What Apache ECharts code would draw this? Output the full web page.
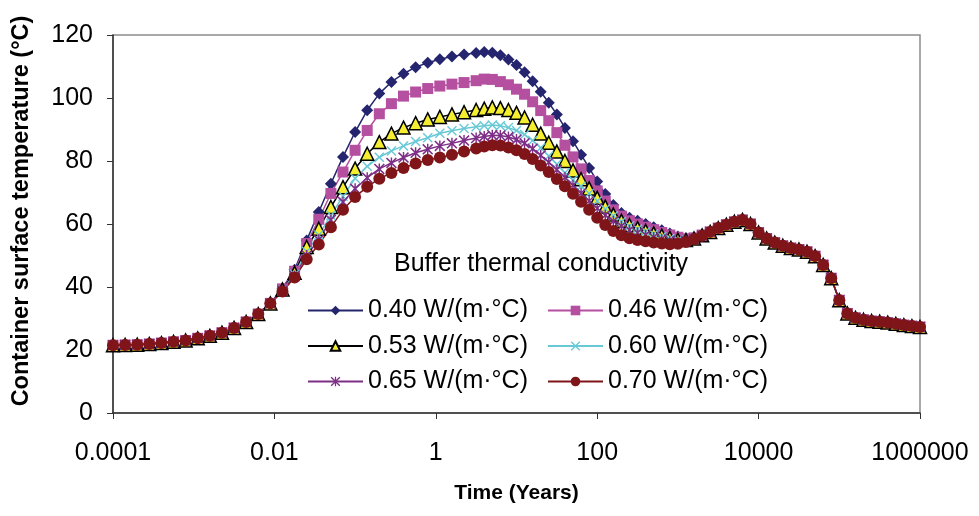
<!DOCTYPE html>
<html>
<head>
<meta charset="utf-8">
<script src="https://cdn.jsdelivr.net/npm/echarts@6/dist/echarts.min.js"></script>
<style>
  html, body { margin: 0; padding: 0; background: #fff; }
  #chart { width: 979px; height: 516px; }
</style>
</head>
<body>
<div id="chart"></div>
<script>
// log10 of time in years for every computed step
const logTime = [
  -4, -3.85, -3.7, -3.55, -3.4, -3.25, -3.1, -2.95, -2.8, -2.65, -2.5, -2.35, -2.2, -2.05,
  -1.9, -1.75, -1.6, -1.45, -1.3, -1.15, -1, -0.85, -0.7, -0.55, -0.4, -0.25, -0.1, 0.05, 0.2, 0.35, 0.5,
  0.6, 0.7, 0.8, 0.9, 1.0, 1.1, 1.2, 1.3, 1.4, 1.5, 1.6, 1.7, 1.8, 1.9, 2.0,
  2.1, 2.2, 2.3, 2.4, 2.5, 2.6, 2.7, 2.8, 2.9, 3.0, 3.1, 3.2, 3.3,
  3.4, 3.5, 3.6, 3.7, 3.8, 3.9, 4.0, 4.1, 4.2, 4.3, 4.4, 4.5, 4.6, 4.7, 4.8, 4.9,
  5.0, 5.1, 5.2, 5.3, 5.4, 5.5, 5.6, 5.7, 5.8, 5.9, 6.0
];

// all cases coincide before ~0.01 yr and after ~2000 yr
const sharedEarly = [21.5, 21.6, 21.7, 21.9, 22.2, 22.6, 23.0, 23.7, 24.5, 25.5, 27.0, 28.9, 31.4, 34.8];
const sharedLate = [57.5, 58.7, 59.8, 60.7, 61.3, 60.0, 57.3, 55.4, 54.1, 53.1, 52.4, 51.9, 51.2, 49.8, 47.0, 42.8,
  35.8, 31.6, 30.2, 29.6, 29.2, 29.0, 28.7, 28.3, 27.9, 27.6, 27.3];

const k040 = [39.6, 45.5, 54.8, 63.8, 72.8, 81.3, 89.2, 96.1, 101.4, 105.1, 107.7, 109.8, 111.2, 112.3, 113.2, 113.8, 114.3,
  114.6, 114.4, 113.6, 112.2, 110.5, 108.2, 105.3, 102.0, 98.5, 94.8, 90.5, 86.3, 82.0, 77.8, 73.5,
  69.5, 66.0, 63.5, 62.0, 61.0, 60.0, 59.0, 58.0, 57.0, 56.0, 55.5, 55.7, 56.6];
const k046 = [39.4, 45.0, 53.8, 61.5, 69.7, 76.5, 83.4, 89.7, 95.0, 98.2, 100.6, 101.9, 103.0, 103.8, 104.4, 104.9, 105.5,
  106.0, 105.9, 105.2, 104.2, 102.8, 101.2, 98.8, 96.0, 92.8, 89.0, 85.0, 81.3, 77.5, 73.8, 70.5,
  67.3, 64.5, 62.5, 61.0, 60.0, 59.0, 58.2, 57.3, 56.5, 55.8, 55.3, 55.6, 56.5];
const k053 = [39.2, 44.5, 52.7, 58.5, 65.4, 71.7, 77.6, 82.3, 86.0, 88.7, 90.6, 92.0, 93.2, 94.0, 94.8, 95.5, 96.2,
  96.6, 97.0, 96.8, 96.2, 95.3, 93.8, 91.5, 88.7, 85.8, 83.0, 80.0, 77.0, 74.2, 71.3, 68.3,
  65.5, 63.0, 61.0, 59.6, 58.7, 57.8, 57.0, 56.3, 55.6, 55.0, 54.9, 55.4, 56.4];
const k060 = [39.0, 44.0, 51.3, 56.5, 62.8, 68.8, 74.5, 78.3, 81.2, 83.2, 84.8, 86.2, 87.4, 88.8, 89.6, 90.3, 90.9,
  91.2, 91.4, 91.2, 90.6, 89.7, 88.4, 86.5, 84.2, 81.6, 79.0, 76.3, 74.0, 72.0, 69.7, 67.3,
  64.8, 62.6, 60.8, 59.4, 58.4, 57.6, 56.8, 56.0, 55.4, 54.9, 54.8, 55.3, 56.3];
const k065 = [38.8, 43.5, 50.0, 55.0, 61.3, 67.0, 71.2, 74.7, 77.5, 79.4, 81.1, 82.6, 83.7, 84.8, 85.6, 86.5, 87.3,
  87.8, 88.2, 88.1, 87.6, 86.8, 85.6, 83.9, 81.8, 79.6, 77.2, 74.8, 72.3, 69.8, 67.3, 65.0,
  62.8, 60.9, 59.3, 58.1, 57.2, 56.5, 55.8, 55.2, 54.7, 54.4, 54.6, 55.2, 56.3];
const k070 = [38.6, 43.0, 48.8, 53.5, 59.0, 64.5, 68.6, 71.8, 74.4, 76.2, 77.8, 79.2, 80.3, 81.1, 82.0, 83.0, 84.0,
  84.6, 85.0, 84.9, 84.3, 83.4, 82.2, 80.6, 78.6, 76.5, 74.3, 72.0, 69.6, 67.1, 64.5, 62.0,
  59.7, 57.8, 56.4, 55.5, 54.9, 54.5, 54.1, 53.8, 53.6, 53.7, 54.3, 55.2, 56.3];

const names = ['0.40 W/(m·°C)', '0.46 W/(m·°C)', '0.53 W/(m·°C)', '0.60 W/(m·°C)', '0.65 W/(m·°C)', '0.70 W/(m·°C)'];
const yTicks = [0, 20, 40, 60, 80, 100, 120];

const FONT = '"Liberation Sans", Arial, sans-serif';
const crossPath = 'path://M0,1L1,0L5,4L9,0L10,1L6,5L10,9L9,10L5,6L1,10L0,9L4,5Z';
const starPath = 'path://M0,1L1,0L5,4L9,0L10,1L6,5L10,9L9,10L5,6L1,10L0,9L4,5Z M4.35,0L5.65,0L5.65,10L4.35,10Z';

function toPoints(mid) {
  const temps = [...sharedEarly, ...mid, ...sharedLate];
  return logTime.map((lt, i) => [Math.pow(10, lt), temps[i]]);
}

function makeSeries(name, mid, symbol, size, color, lineColor, border) {
  return {
    name,
    type: 'line',
    data: toPoints(mid),
    symbol,
    symbolSize: size,
    showSymbol: true,
    lineStyle: { color: lineColor || color, width: 1.5 },
    itemStyle: border
      ? { color, borderColor: border, borderWidth: 1.5 }
      : { color, borderWidth: 0 },
    emphasis: { disabled: true },
  };
}

const chart = echarts.init(document.getElementById('chart'));

const legendBase = {
  orient: 'vertical',
  top: 298,
  itemWidth: 55,
  itemHeight: 12,
  itemGap: 10.5,
  padding: 0,
  textStyle: { fontSize: 25, color: '#000', fontFamily: FONT },
};

chart.setOption({
  animation: false,
  backgroundColor: '#fff',
  title: {
    text: 'Buffer thermal conductivity',
    left: 394,
    top: 252,
    padding: 0,
    textStyle: { fontSize: 25, fontWeight: 'normal', color: '#000', fontFamily: FONT },
  },
  legend: [
    { ...legendBase, left: 307, data: [names[0], names[2], names[4]] },
    { ...legendBase, left: 547, data: [names[1], names[3], names[5]] },
  ],
  grid: {
    left: 113,
    right: 59,
    top: 35,
    bottom: 103,
    show: true,
    borderColor: '#8c8c8c',
    borderWidth: 1.5,
  },
  xAxis: {
    type: 'log',
    logBase: 100,
    min: 0.0001,
    max: 1000000,
    name: 'Time (Years)',
    nameLocation: 'middle',
    nameGap: 70,
    nameTextStyle: { fontSize: 21, fontWeight: 'bold', color: '#000', fontFamily: FONT },
    axisLine: { lineStyle: { color: '#333', width: 1.5 } },
    axisTick: { inside: false, length: 6, lineStyle: { color: '#333' } },
    minorTick: { show: false },
    splitLine: { show: false },
    axisLabel: {
      fontSize: 25,
      color: '#000',
      fontFamily: FONT,
      margin: 28,
      formatter: (v) => {
        if (v >= 1) return String(Math.round(v));
        return v.toFixed(Math.round(-Math.log10(v)));
      },
    },
  },
  yAxis: {
    type: 'value',
    min: yTicks[0],
    max: yTicks[yTicks.length - 1],
    interval: 20,
    name: 'Container surface temperature (°C)',
    nameLocation: 'middle',
    nameGap: 79,
    nameTruncate: { maxWidth: 800 },
    nameTextStyle: {
      fontSize: 23.5, fontWeight: 'bold', color: '#000', fontFamily: FONT,
      padding: [0, 0, 0, 26],
    },
    axisLine: { show: true, lineStyle: { color: '#333', width: 1.5 } },
    axisTick: { show: true, inside: false, length: 6, lineStyle: { color: '#333' } },
    splitLine: { show: false },
    axisLabel: { fontSize: 25, color: '#000', fontFamily: FONT, margin: 20 },
  },
  series: [
    makeSeries(names[0], k040, 'diamond', 12, '#25256f'),
    makeSeries(names[1], k046, 'rect', 11, '#b54f9f'),
    makeSeries(names[2], k053, 'triangle', 13, '#f5ee30', '#000', '#000'),
    makeSeries(names[3], k060, crossPath, 10, '#68c9d6'),
    makeSeries(names[4], k065, starPath, 11, '#7d2e86'),
    makeSeries(names[5], k070, 'circle', 12, '#7f1518'),
  ],
});
</script>
</body>
</html>
